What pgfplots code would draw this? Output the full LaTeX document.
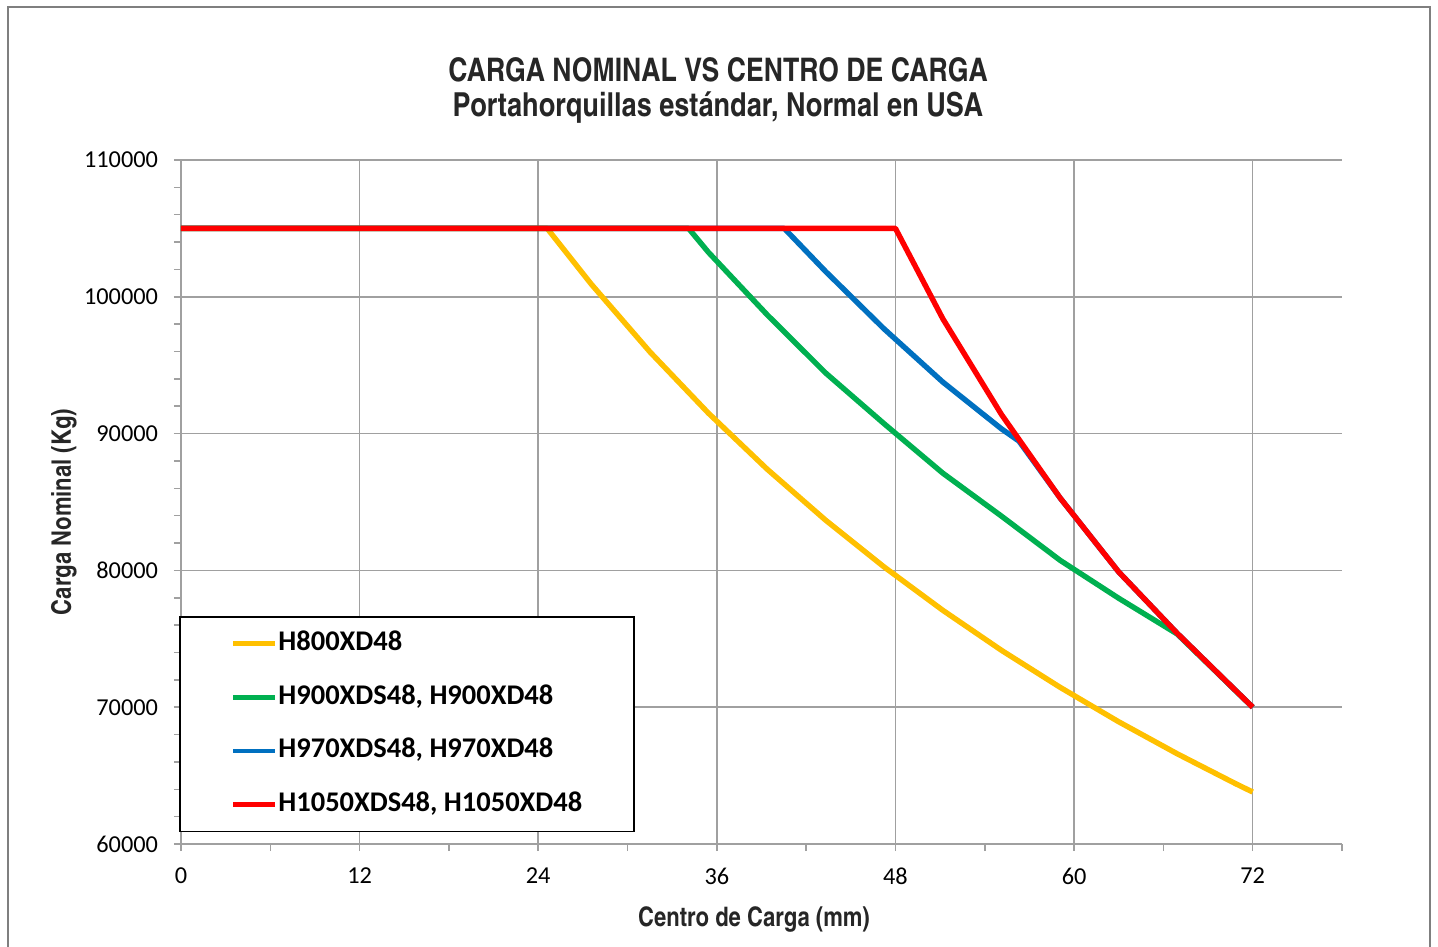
\documentclass[border=0pt]{standalone}
\usepackage{fontspec}
\setmainfont{Carlito}
\newfontfamily\cnfont{texgyreheroscn-bold.otf}
\usepackage{pgfplots}
\pgfplotsset{compat=1.18}

\definecolor{cYellow}{HTML}{FFC000}
\definecolor{cGreen}{HTML}{00B050}
\definecolor{cBlue}{HTML}{0070C0}
\definecolor{cRed}{HTML}{FF0000}
\definecolor{gridgray}{HTML}{A0A0A0}
\definecolor{framegray}{HTML}{7F7F7F}

\begin{document}
\begin{tikzpicture}
\useasboundingbox (-90.5bp,-51.5bp) rectangle (628.5bp,422bp);
\draw[framegray, line width=0.75bp] (-86.5bp,-60bp) -- (-86.5bp,418.5bp) -- (624.5bp,418.5bp) -- (624.5bp,-60bp);

\begin{axis}[
    at={(0,0)}, anchor=south west,
    scale only axis, width=580.5bp, height=342bp,
    xmin=0, xmax=78, ymin=60000, ymax=110000,
    xtick={0,12,...,72}, minor xtick={6,18,...,78},
    xticklabels={0,12,24,36,48,60,72},
    ytick={60000,70000,...,110000}, minor ytick={62000,64000,...,108000},
    yticklabels={60000,70000,80000,90000,100000,110000},
    axis x line*=bottom, axis y line*=left,
    xmajorgrids, ymajorgrids,
    grid style={color=gridgray, line width=0.75bp},
    axis line style={color=gridgray, line width=0.75bp},
    tick style={color=gridgray, line width=0.75bp},
    tick align=outside, major tick length=3.5bp, minor tick length=3.5bp,
    scaled y ticks=false,
    ticklabel style={font=\fontsize{12.2}{14}\selectfont, text=black},
    xticklabel style={yshift=-5bp},
    yticklabel style={xshift=-4.5bp},
    legend style={at={(-0.0017,0.3333)}, anchor=north west,
        draw=black, line width=0.75bp, fill=white,
        inner xsep=25.5bp, inner ysep=6.5bp, row sep=12.8bp,
        font=\bfseries\fontsize{14.3}{16}\selectfont,
        nodes={inner sep=0.5bp, text height=10bp, text depth=3bp}},
    legend cell align=left,
    legend image code/.code={\draw[#1, line width=2.3bp] (0bp,0bp) -- (21bp,0bp);},
    every axis plot/.append style={line width=2.7bp, line join=round},
]
% H800XD48
\addplot[cYellow] coordinates {
    (0,105000) (24.6,105000) (27.56,100930) (31.50,95980) (35.43,91500)
    (39.37,87410) (43.31,83670) (47.24,80250) (51.18,77085) (55.12,74160)
    (59.06,71455) (62.99,68940) (66.93,66595) (70.87,64400) (72,63800)
};
\addlegendentry{H800XD48}
% H900XDS48, H900XD48
\addplot[cGreen] coordinates {
    (0,105000) (34.1,105000) (35.43,103260) (39.37,98700) (43.31,94430)
    (47.24,90720) (51.18,87110) (55.12,83970) (59.06,80740) (62.99,77970)
    (66.93,75350) (70.87,71190) (72,70000)
};
\addlegendentry{H900XDS48, H900XD48}
% H970XDS48, H970XD48
\addplot[cBlue] coordinates {
    (0,105000) (40.53,105000) (43.31,101850) (47.24,97650) (51.18,93770)
    (55.12,90350) (56.3,89450) (59.06,85300) (62.99,79900) (66.93,75400)
    (70.87,71200) (72,70000)
};
\addlegendentry{H970XDS48, H970XD48}
% H1050XDS48, H1050XD48
\addplot[cRed] coordinates {
    (0,105000) (48,105000) (51.18,98400) (55.12,91400) (59.06,85300)
    (62.99,79900) (66.93,75400) (70.87,71200) (72,70000)
};
\addlegendentry{H1050XDS48, H1050XD48}
\end{axis}

\node[anchor=base, font=\cnfont\fontsize{16.3}{20}\selectfont, text=black!85] at (268.5bp,381bp) {CARGA NOMINAL VS CENTRO DE CARGA};
\node[anchor=base, font=\cnfont\fontsize{16.6}{20}\selectfont, text=black!85] at (268.5bp,363.5bp) {Portahorquillas estándar, Normal en USA};
\node[anchor=base, font=\cnfont\fontsize{13.5}{16}\selectfont, text=black!85] at (286.5bp,-41bp) {Centro de Carga (mm)};
\node[rotate=90, font=\cnfont\fontsize{13.5}{16}\selectfont, text=black!85] at (-58.5bp,166bp) {Carga Nominal (Kg)};
\end{tikzpicture}
\end{document}
